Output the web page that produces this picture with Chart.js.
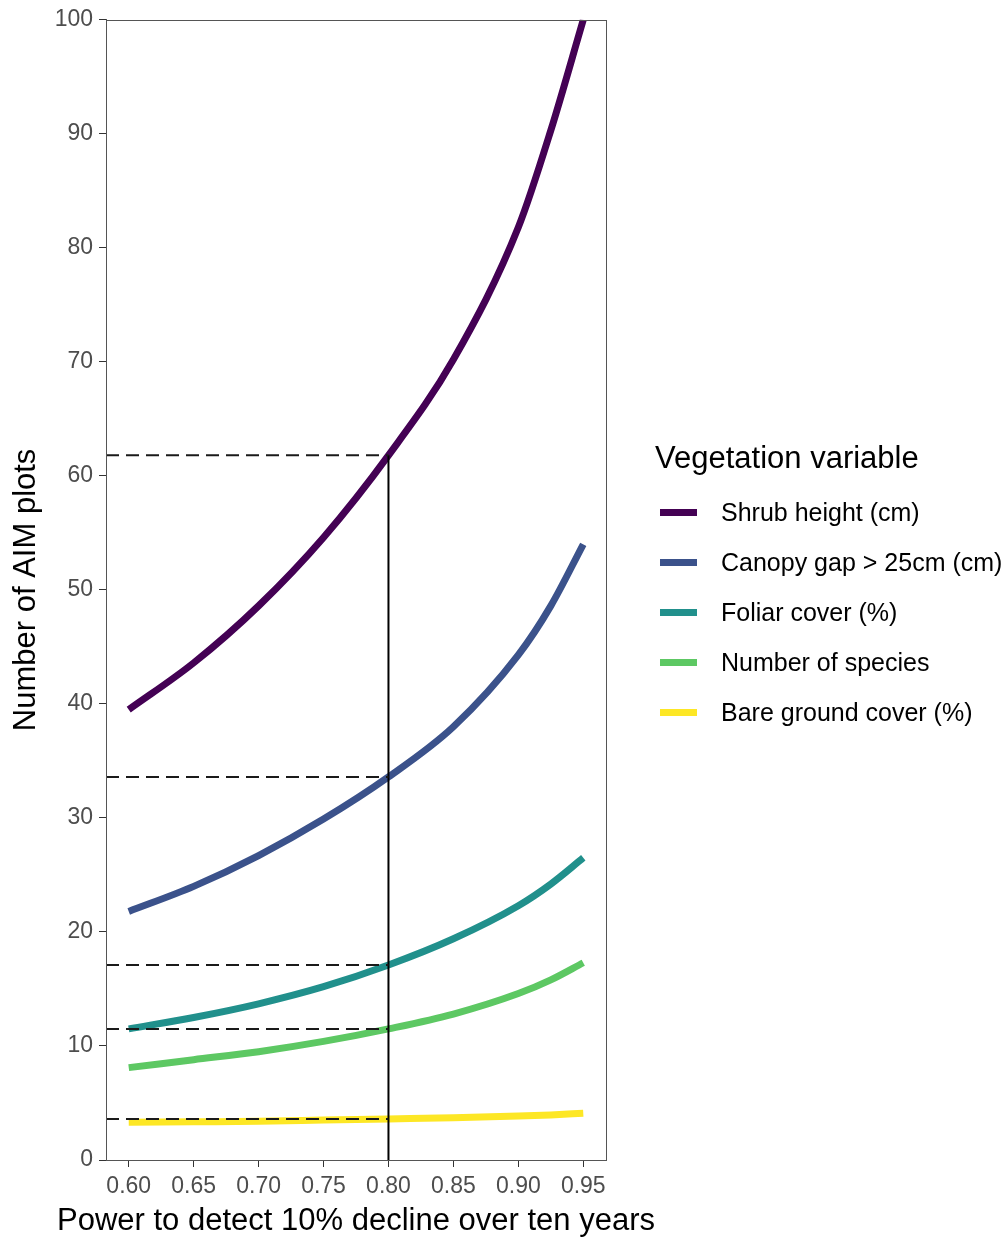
<!DOCTYPE html>
<html>
<head>
<meta charset="utf-8">
<script src="https://cdn.jsdelivr.net/npm/chart.js@4/dist/chart.umd.min.js"></script>
<style>
  html, body { margin: 0; padding: 0; background: #fff; }
  #wrap { position: relative; width: 1008px; height: 1239px; font-family: 'Liberation Sans', Arial, sans-serif; }
  #c { position: absolute; left: 0; top: 0; }
  #legend { position: absolute; left: 0; top: 0; width: 1008px; height: 1239px; pointer-events: none; }
  .lg-title { position: absolute; left: 655px; top: 440px; font-size: 31px; line-height: 36px; color: #000; white-space: nowrap; }
  .lg-sw { position: absolute; left: 660px; width: 37px; height: 7px; }
  .lg-tx { position: absolute; left: 721px; font-size: 25px; line-height: 30px; color: #000; white-space: nowrap; }
  .x-title { position: absolute; left: 0; width: 712px; top: 1202px; text-align: center; font-size: 31px; line-height: 36px; color: #000; white-space: nowrap; }
</style>
</head>
<body>
<div id="wrap">
  <canvas id="c" width="1008" height="1239"></canvas>
  <div id="legend"></div>
</div>
<script>
// ---- data ----
const powers = [0.60, 0.65, 0.70, 0.75, 0.80, 0.85, 0.90, 0.925, 0.95];
const shrubHeight = [39.5, 43.6, 48.6, 54.6, 61.8, 70.2, 81.8, 90.3, 100.0];
const canopyGap = [21.8, 24.0, 26.7, 29.9, 33.6, 38.0, 44.3, 48.6, 54.0];
const foliarCover = [11.5, 12.5, 13.7, 15.2, 17.1, 19.4, 22.3, 24.2, 26.5];
const numSpecies = [8.1, 8.8, 9.5, 10.4, 11.5, 12.8, 14.6, 15.8, 17.3];
const bareGround = [3.3, 3.35, 3.4, 3.5, 3.6, 3.7, 3.85, 3.95, 4.1];
const seriesNames = ['Shrub height (cm)', 'Canopy gap > 25cm (cm)', 'Foliar cover (%)', 'Number of species', 'Bare ground cover (%)'];
const seriesColors = ['#440154', '#3B528B', '#21908C', '#5DC863', '#FDE725'];
const xTicks = [0.60, 0.65, 0.70, 0.75, 0.80, 0.85, 0.90, 0.95];
const yTicks = [0, 10, 20, 30, 40, 50, 60, 70, 80, 90, 100];
const xTitle = 'Power to detect 10% decline over ten years';
const yTitle = 'Number of AIM plots';
const legendTitle = 'Vegetation variable';
const targetPower = 0.80;
const xMin = 0.5825, xMax = 0.9675, yMin = 0, yMax = 100;

const allSeries = [shrubHeight, canopyGap, foliarCover, numSpecies, bareGround];
const targetIdx = powers.indexOf(targetPower);

const FONT = "'Liberation Sans', Arial, sans-serif";

const datasets = [];
// reference lines (drawn on top: lower order)
allSeries.forEach((s) => {
  datasets.push({
    data: [{x: xMin, y: s[targetIdx]}, {x: targetPower, y: s[targetIdx]}],
    borderColor: '#1a1a1a', borderWidth: 2, borderDash: [13, 7],
    pointRadius: 0, order: 0, clip: 0
  });
});
datasets.push({
  data: [{x: targetPower, y: yMin}, {x: targetPower, y: shrubHeight[targetIdx]}],
  borderColor: '#000000', borderWidth: 2, pointRadius: 0, order: 0, clip: 0
});
allSeries.forEach((s, i) => {
  datasets.push({
    label: seriesNames[i],
    data: s.map((v, j) => ({x: powers[j], y: v})),
    borderColor: seriesColors[i], borderWidth: 7, borderCapStyle: 'butt',
    pointRadius: 0, cubicInterpolationMode: 'monotone', order: 1, clip: 0
  });
});

const panelBorder = {
  id: 'panelBorder',
  afterDatasetsDraw(chart) {
    const {ctx, chartArea: a} = chart;
    ctx.save();
    ctx.strokeStyle = '#555555';
    ctx.lineWidth = 1;
    ctx.strokeRect(Math.round(a.left) + 0.5, Math.round(a.top) + 0.5, Math.round(a.right - a.left), Math.round(a.bottom - a.top));
    ctx.restore();
  }
};

new Chart(document.getElementById('c'), {
  type: 'line',
  data: { datasets },
  options: {
    responsive: false,
    animation: false,
    events: [],
    layout: { padding: { top: 17, right: 402, left: 0, bottom: 0 } },
    plugins: { legend: { display: false }, tooltip: { enabled: false } },
    scales: {
      x: {
        type: 'linear', min: xMin, max: xMax,
        afterBuildTicks: (sc) => { sc.ticks = xTicks.map(v => ({value: v})); },
        afterFit: (sc) => { sc.height = 79; },
        ticks: { callback: (v) => Number(v).toFixed(2), color: '#4d4d4d', font: { family: FONT, size: 23 }, padding: 6, maxRotation: 0, autoSkip: false },
        grid: { drawOnChartArea: false, drawTicks: true, tickLength: 7, color: '#333333' },
        border: { display: true, color: '#555555' },
        title: { display: false }
      },
      y: {
        type: 'linear', min: yMin, max: yMax,
        afterBuildTicks: (sc) => { sc.ticks = yTicks.map(v => ({value: v})); },
        afterFit: (sc) => { sc.width = 106; },
        ticks: { color: '#4d4d4d', font: { family: FONT, size: 23 }, padding: 6, autoSkip: false },
        grid: { drawOnChartArea: false, drawTicks: true, tickLength: 7, color: '#333333' },
        border: { display: true, color: '#555555' },
        title: { display: true, text: yTitle, color: '#000', font: { family: FONT, size: 31 }, padding: { top: 8, bottom: 0 } }
      }
    }
  },
  plugins: [panelBorder]
});

// x-axis title and legend (HTML text built from the arrays above)
const lg = document.getElementById('legend');
const xt = document.createElement('div');
xt.className = 'x-title';
xt.textContent = xTitle;
lg.appendChild(xt);
const t = document.createElement('div');
t.className = 'lg-title';
t.textContent = legendTitle;
lg.appendChild(t);
seriesNames.forEach((name, i) => {
  const cy = 512 + 50 * i;
  const sw = document.createElement('div');
  sw.className = 'lg-sw';
  sw.style.top = (cy - 3.5) + 'px';
  sw.style.background = seriesColors[i];
  lg.appendChild(sw);
  const tx = document.createElement('div');
  tx.className = 'lg-tx';
  tx.style.top = (cy - 15) + 'px';
  tx.textContent = name;
  lg.appendChild(tx);
});
</script>
</body>
</html>
